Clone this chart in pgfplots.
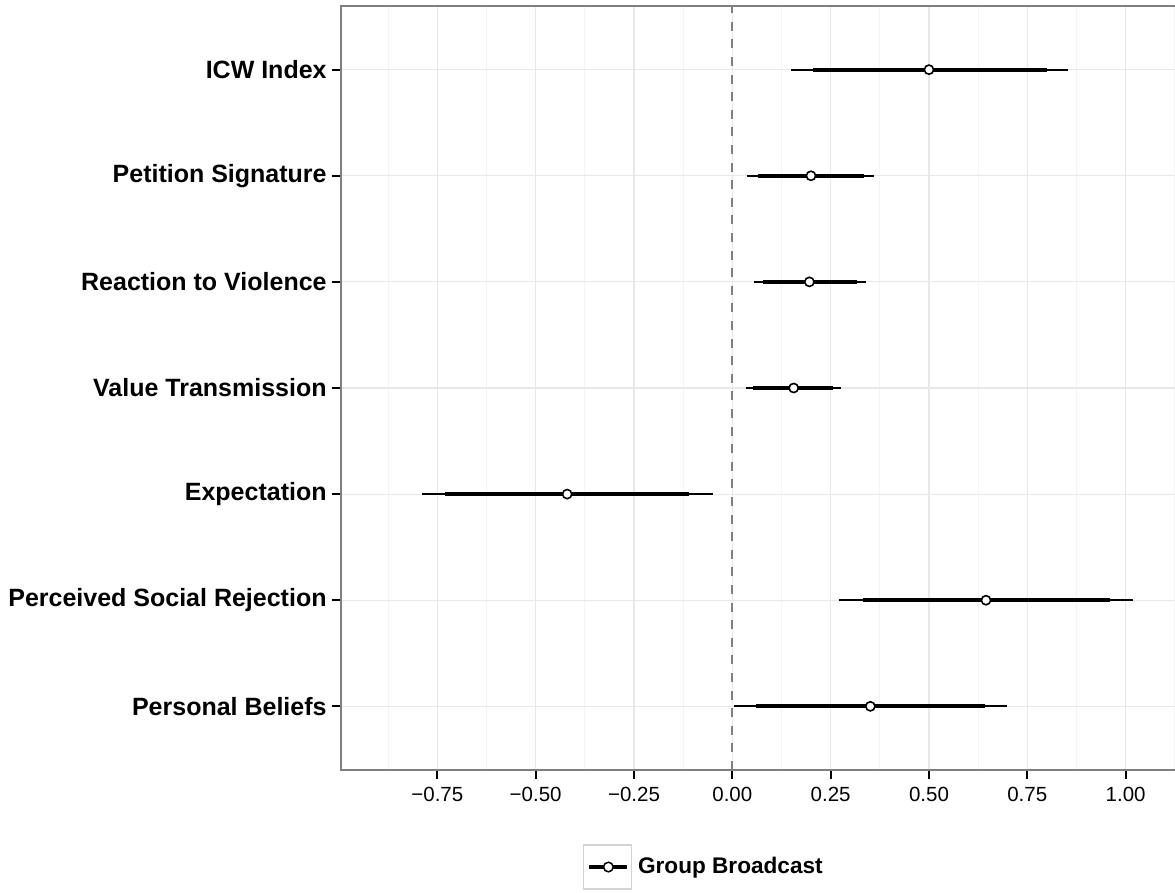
\documentclass[border=0pt]{standalone}
\usepackage{fontspec}
\setmainfont{Liberation Sans}
\usepackage{pgfplots}
\pgfplotsset{compat=1.18}
\usepackage{pgfplotstable}

\definecolor{gridmaj}{HTML}{E8E8E8}
\definecolor{gridmin}{HTML}{F4F4F4}
\definecolor{panelframe}{HTML}{7F7F7F}
\definecolor{zeroline}{HTML}{808080}

% pos: 1 = bottom row; intervals: thin = 95%, thick = 90%
\pgfplotstableread{
pos est lo95 hi95 lo90 hi90
7 0.500 0.148 0.854 0.204 0.799
6 0.200 0.038 0.361 0.066 0.335
5 0.196 0.055 0.339 0.079 0.316
4 0.156 0.035 0.276 0.053 0.257
3 -0.420 -0.790 -0.050 -0.730 -0.109
2 0.645 0.270 1.020 0.331 0.960
1 0.351 0.003 0.698 0.059 0.643
}\effects

\begin{document}
\begin{tikzpicture}
\begin{axis}[
  scale only axis, width=417pt, height=382pt,
  xmin=-0.995, xmax=1.1256, ymin=0.4, ymax=7.6,
  clip=false,
  axis line style={draw=none},
  xtick={-0.75,-0.5,-0.25,0,0.25,0.5,0.75,1},
  xticklabels={−0.75,−0.50,−0.25,0.00,0.25,0.50,0.75,1.00},
  minor xtick={-0.875,-0.625,-0.375,-0.125,0.125,0.375,0.625,0.875,1.125},
  ytick={1,2,3,4,5,6,7},
  yticklabels={Personal Beliefs,Perceived Social Rejection,Expectation,Value Transmission,Reaction to Violence,Petition Signature,ICW Index},
  grid=both,
  major grid style={gridmaj, line width=0.55pt},
  minor grid style={gridmin, line width=0.55pt},
  tick align=outside, xtick pos=bottom, ytick pos=left,
  major tick length=4.5pt, minor tick length=0pt,
  tick style={black, line width=0.9pt},
  xticklabel style={font=\fontsize{10.25}{12}\selectfont, text=black, inner sep=0pt, yshift=-4pt},
  yticklabel style={font=\bfseries\fontsize{12.5}{14}\selectfont, text=black, inner sep=0pt, xshift=-2.5pt},
  legend style={at={(0.2898,-0.127)}, anchor=west, draw=none, fill=none,
    inner sep=0pt, outer sep=0pt, nodes={inner sep=0pt}, column sep=3pt,
    font=\bfseries\fontsize{11.3}{13}\selectfont},
]
\coordinate (bl) at (rel axis cs:0,0);
\coordinate (tr) at (rel axis cs:1,1);

\addplot[zeroline, line width=1pt, dash pattern=on 4.5pt off 4.3pt, forget plot]
  coordinates {(0,0.4) (0,7.6)};

\addplot[only marks, mark=none, forget plot,
  error bars/.cd, x dir=both, x explicit, error mark=none,
  error bar style={draw=black, line width=0.85pt}]
  table[x=est, y=pos,
    x error plus expr=\thisrow{hi95}-\thisrow{est},
    x error minus expr=\thisrow{est}-\thisrow{lo95}] {\effects};

\addplot[only marks, mark=none, forget plot,
  error bars/.cd, x dir=both, x explicit, error mark=none,
  error bar style={draw=black, line width=2.15pt}]
  table[x=est, y=pos,
    x error plus expr=\thisrow{hi90}-\thisrow{est},
    x error minus expr=\thisrow{est}-\thisrow{lo90}] {\effects};

\addplot[only marks, mark=*, mark size=2.3pt,
  mark options={draw=black, fill=white, line width=0.8pt},
  legend image code/.code={
    \draw[gray!35, line width=0.7pt, fill=none] (0pt,-11pt) rectangle (24pt,11pt);
    \draw[black, line width=1.9pt] (2.8pt,0pt) -- (22pt,0pt);
    \draw[black, fill=white, line width=0.75pt] (12.5pt,0pt) circle (2.4pt);
  }]
  table[x=est, y=pos] {\effects};
\addlegendentry{Group Broadcast}

\draw[panelframe, line width=0.9pt] (rel axis cs:1,1) -- (rel axis cs:0,1)
  -- (rel axis cs:0,0) -- (rel axis cs:1,0);
\end{axis}
\pgfresetboundingbox
\path[use as bounding box] ([xshift=-170.5pt,yshift=-61pt]bl) rectangle ([yshift=3pt]tr);
\end{tikzpicture}
\end{document}
